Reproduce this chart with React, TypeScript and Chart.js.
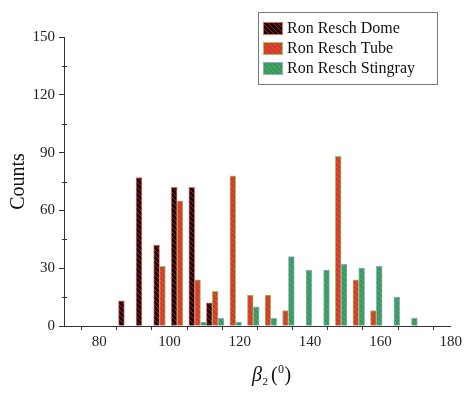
import React, { useEffect, useRef } from "react";
import { Chart, registerables } from "chart.js";

Chart.register(...registerables);

// Histogram bins (bin centres, degrees) and counts for each fold pattern
const domeBins = [88, 93, 98, 103, 108, 113];
const domeCounts = [13, 77, 42, 72, 72, 12];
const tubeBins = [98, 103, 108, 113, 118, 123, 128, 133, 148, 153, 158];
const tubeCounts = [31, 65, 24, 18, 78, 16, 16, 8, 88, 24, 8];
const stingrayBins = [108, 113, 118, 123, 128, 133, 138, 143, 148, 153, 158, 163, 168];
const stingrayCounts = [2, 4, 2, 10, 4, 36, 29, 29, 32, 30, 31, 15, 4];

const seriesNames = ["Ron Resch Dome", "Ron Resch Tube", "Ron Resch Stingray"];

const xMin = 70;
const xMax = 180;
const yMin = 0;
const yMax = 150;

const SERIF = '"Liberation Serif", "Times New Roman", serif';

type Hatch = { bg: string; stripe: string; border: string };
const hatches: Hatch[] = [
  { bg: "#140606", stripe: "#a82020", border: "#e46a6a" },
  { bg: "#e8302a", stripe: "#9a7a34", border: "#8fcd6c" },
  { bg: "#3fa944", stripe: "#3f73b0", border: "#8ea9e2" },
];

function makePattern(ctx: CanvasRenderingContext2D, h: Hatch): CanvasPattern | string {
  const s = 5;
  const c = document.createElement("canvas");
  c.width = s;
  c.height = s;
  const p = c.getContext("2d");
  if (!p) return h.bg;
  p.fillStyle = h.bg;
  p.fillRect(0, 0, s, s);
  p.strokeStyle = h.stripe;
  p.lineWidth = 1;
  for (const off of [-s, 0, s]) {
    p.beginPath();
    p.moveTo(-1, -1 + off);
    p.lineTo(s + 1, s + 1 + off);
    p.stroke();
  }
  return ctx.createPattern(c, "repeat") || h.bg;
}

function toPoints(bins: number[], counts: number[]) {
  return bins.map((x, i) => ({ x, y: counts[i] }));
}

export default function App() {
  const canvasRef = useRef<HTMLCanvasElement | null>(null);

  useEffect(() => {
    const canvas = canvasRef.current;
    if (!canvas) return;
    const ctx = canvas.getContext("2d");
    if (!ctx) return;

    const patterns = hatches.map((h) => makePattern(ctx, h));

    const decor = {
      id: "decor",
      afterDraw(chart: any) {
        const c: CanvasRenderingContext2D = chart.ctx;
        const area = chart.chartArea;
        const ys = chart.scales.y;
        c.save();

        // minor ticks on the count axis
        c.strokeStyle = "#333";
        c.lineWidth = 1;
        for (let v = 15; v < yMax; v += 30) {
          const py = Math.round(ys.getPixelForValue(v)) + 0.5;
          c.beginPath();
          c.moveTo(area.left - 2, py);
          c.lineTo(area.left + 3, py);
          c.stroke();
        }

        // y-axis title
        c.fillStyle = "#111";
        c.font = `20px ${SERIF}`;
        c.textAlign = "center";
        c.textBaseline = "middle";
        c.translate(19, (area.top + area.bottom) / 2);
        c.rotate(-Math.PI / 2);
        c.fillText("Counts", 0, 0);
        c.setTransform(1, 0, 0, 1, 0, 0);

        // x-axis title: β₂ (⁰)
        c.textAlign = "left";
        c.textBaseline = "alphabetic";
        let x = 252;
        const base = 381;
        c.font = `italic 20px ${SERIF}`;
        c.fillText("β", x, base);
        x += c.measureText("β").width + 0.5;
        c.font = `11px ${SERIF}`;
        c.fillText("2", x, base + 4);
        x += c.measureText("2").width + 3;
        c.font = `20px ${SERIF}`;
        c.fillText("(", x, base);
        x += c.measureText("(").width + 0.5;
        c.font = `12px ${SERIF}`;
        c.fillText("0", x, base - 8);
        x += c.measureText("0").width + 0.5;
        c.font = `20px ${SERIF}`;
        c.fillText(")", x, base);

        // legend box
        const bx = 258.5;
        const by = 12.5;
        c.strokeStyle = "#777";
        c.lineWidth = 1;
        c.strokeRect(bx, by, 179, 72);
        c.font = `16px ${SERIF}`;
        c.textBaseline = "middle";
        chart.data.datasets.forEach((ds: any, i: number) => {
          const sy = 22 + i * 20;
          c.fillStyle = patterns[i] as any;
          c.fillRect(263, sy, 20, 13);
          c.strokeStyle = hatches[i].border;
          c.strokeRect(263.5, sy + 0.5, 19, 12);
          c.fillStyle = "#111";
          c.fillText(ds.label, 287, sy + 7);
        });

        c.restore();
      },
    };

    const series = [
      toPoints(domeBins, domeCounts),
      toPoints(tubeBins, tubeCounts),
      toPoints(stingrayBins, stingrayCounts),
    ];

    const chart = new Chart(canvas, {
      type: "bar",
      data: {
        datasets: series.map((data, i) => ({
          label: seriesNames[i],
          data,
          backgroundColor: patterns[i] as any,
          borderColor: hatches[i].border,
          borderWidth: 1,
          categoryPercentage: 1,
          barPercentage: 1,
        })),
      },
      options: {
        animation: false,
        responsive: false,
        devicePixelRatio: 1,
        layout: { padding: { top: 37, right: 14, left: 0, bottom: 0 } },
        plugins: {
          legend: { display: false },
          tooltip: { enabled: false },
        },
        scales: {
          x: {
            type: "linear",
            min: xMin,
            max: xMax,
            offset: false,
            afterFit: (scale: any) => {
              scale.height = 70;
            },
            ticks: {
              stepSize: 10,
              autoSkip: false,
              maxRotation: 0,
              padding: 3,
              color: "#222",
              font: { family: SERIF, size: 15 },
              callback: (v: any) => (Number(v) % 20 === 0 ? String(v) : ""),
            },
            grid: {
              drawOnChartArea: false,
              drawTicks: true,
              tickLength: 4,
              tickColor: "#333",
            },
            border: { display: true, color: "#333", width: 1 },
          },
          y: {
            type: "linear",
            min: yMin,
            max: yMax,
            afterFit: (scale: any) => {
              scale.width = 64;
            },
            ticks: {
              stepSize: 30,
              padding: 4,
              color: "#222",
              font: { family: SERIF, size: 15 },
            },
            grid: {
              drawOnChartArea: false,
              drawTicks: true,
              tickLength: 5,
              tickColor: "#333",
            },
            border: { display: true, color: "#333", width: 1 },
          },
        },
      },
      plugins: [decor],
    });

    return () => chart.destroy();
  }, []);

  return (
    <div style={{ position: "absolute", left: 0, top: 0, width: 465, height: 396, background: "#fff" }}>
      <canvas ref={canvasRef} width={465} height={396} />
    </div>
  );
}
